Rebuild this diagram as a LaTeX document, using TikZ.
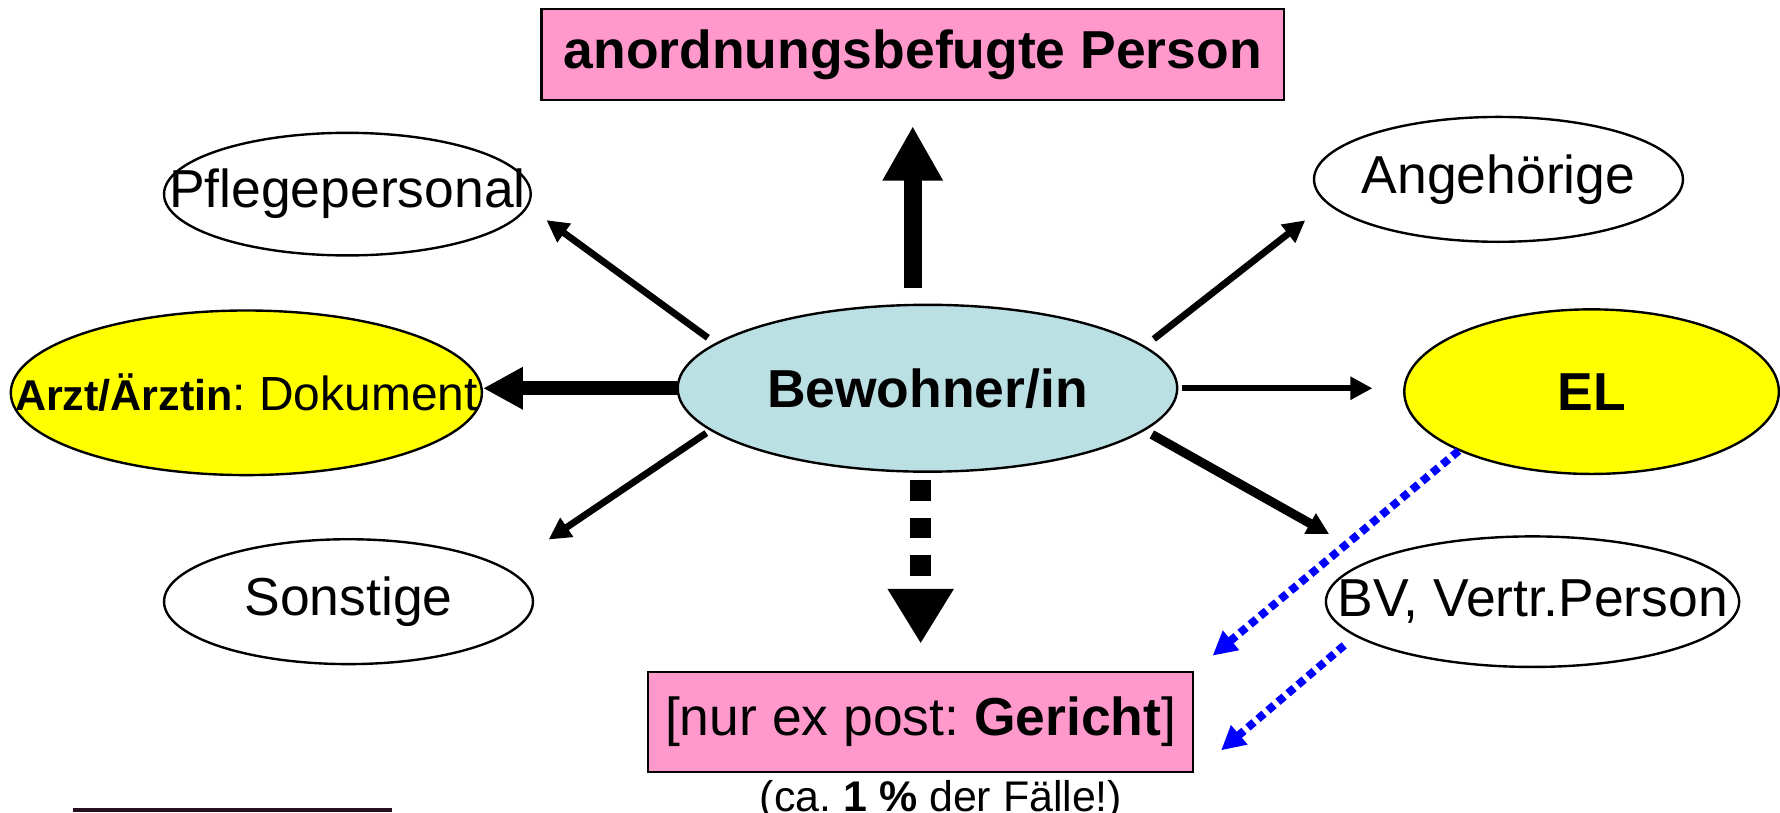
\documentclass[tikz,border=0pt]{standalone}
\usepackage{fontspec}
\setmainfont{Liberation Sans}
\usetikzlibrary{positioning,shapes.geometric,arrows.meta}
\definecolor{rosa}{RGB}{255,153,204}
\definecolor{hellblau}{RGB}{187,224,227}
\definecolor{gelb}{RGB}{255,255,0}
\definecolor{strich}{RGB}{40,15,30}
\frenchspacing

\begin{document}
\begin{tikzpicture}[node distance=0cm, auto,
		every node/.style={font=\fontsize{13.4}{16}\selectfont, inner sep=0pt},
		oval/.style={ellipse, draw, line width=0.6pt, fill=white},
		kasten/.style={rectangle, draw, line width=0.6pt, fill=rosa},
		pfeil/.style={-{Triangle[length=5.5pt,width=5.5pt]}, line width=1.7pt},
		blaupfeil/.style={-{Triangle[length=6pt,width=6pt]}, draw=blue, line width=2pt, dash pattern=on 2pt off 1.3pt}]
			\useasboundingbox (0,0) rectangle (15.68,-7.155);

			\node[kasten, minimum width=6.54cm, minimum height=0.8cm] (anord) at (8.04,-0.48) {\textbf{anordnungsbefugte Person}};
			\node[oval, minimum width=4.4cm, minimum height=1.47cm, fill=hellblau] (bew) at (8.17,-3.42) {\makebox[0pt]{\textbf{Bewohner/in}}};
			\node[oval, minimum width=3.23cm, minimum height=1.08cm] (pflege) at (3.06,-1.71) {\makebox[0pt]{Pflegepersonal}};
			\node[oval, minimum width=3.25cm, minimum height=1.1cm] (angeh) at (13.2,-1.58) {\makebox[0pt]{Angehörige}};
			\node[oval, minimum width=4.15cm, minimum height=1.45cm, fill=gelb] (arzt) at (2.17,-3.46) {\makebox[0pt]{{\fontsize{10.8}{13}\selectfont\textbf{Arzt/Ärztin}}{\fontsize{12}{14}\selectfont: Dokument}}};
			\node[oval, minimum width=3.3cm, minimum height=1.45cm, fill=gelb] (el) at (14.02,-3.45) {\makebox[0pt]{\textbf{EL}}};
			\node[oval, minimum width=3.25cm, minimum height=1.1cm] (sonst) at (3.07,-5.3) {\makebox[0pt]{Sonstige}};
			\node[oval, minimum width=3.64cm, minimum height=1.15cm] (bv) at (13.5,-5.3) {\makebox[0pt]{BV, Vertr.Person}};
			\node[kasten, minimum width=4.8cm, minimum height=0.88cm] (gericht) at (8.11,-6.36) {[nur ex post: \textbf{Gericht}]};
			\node (faelle) [below=0.06cm of gericht, xshift=0.18cm, font=\fontsize{10.75}{13}\selectfont] {(ca. \textbf{1 \%} der Fälle!)};

			\draw[-{Triangle[length=13.7pt,width=14.2pt]}, line width=4.5pt, shorten <=0.14cm, shorten >=0.22cm] (anord.south |- bew.north) -- (anord.south);
			\draw[-{Triangle[length=10pt,width=10pt]}, line width=3.4pt] (bew.west) -- (bew.west -| arzt.east);
			\draw[-{Triangle[length=13.7pt,width=15.6pt]}, line width=5.1pt, dash pattern=on 5.1pt off 4.3pt, shorten <=0.065cm, shorten >=0.24cm] (gericht.north |- bew.south) -- (gericht.north);
			\draw[pfeil, shorten <=0.08cm, shorten >=0.2cm] (bew.168) -- (pflege.-4);
			\draw[pfeil, shorten <=0.1cm, shorten >=0.24cm] (bew.11.5) -- (angeh.188.6);
			\draw[pfeil, shorten <=0.04cm, shorten >=0.45cm] (bew.191.3) -- (sonst.12.8);
			\draw[pfeil, line width=1.4pt, shorten <=0.03cm, shorten >=0.27cm] (bew.east) -- (bew.east -| el.west);
			\draw[pfeil, line width=2.3pt, shorten <=0.07cm, shorten >=0.445cm] (bew.-11.3) -- (bv.165.6);

			% gestrichelt zum Gericht
			\draw[blaupfeil, shorten >=0.21cm] (el.-156) -- (gericht.north east);
			\draw[blaupfeil, shorten <=0.125cm, shorten >=0.31cm] (bv.-169.1) -- (gericht.south east);

			\draw[line width=0.8pt, strich] (0.64,-7.135) -- (3.45,-7.135);
		\end{tikzpicture}
\end{document}
